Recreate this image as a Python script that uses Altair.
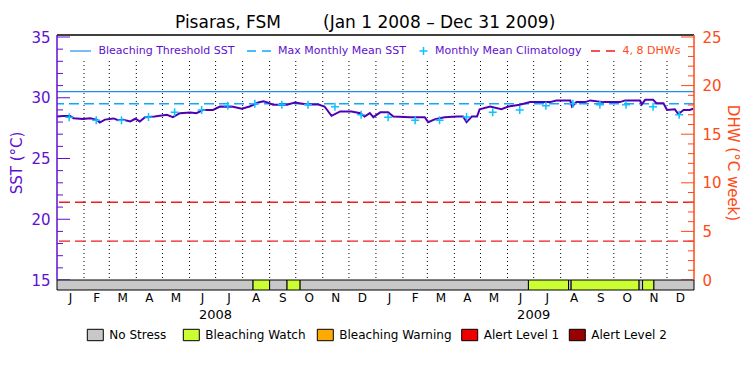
import altair as alt
import pandas as pd

# ---------------- data ----------------
TITLE_SITE = "Pisaras, FSM"
TITLE_RANGE = "(Jan 1 2008 – Dec 31 2009)"

SST_DATES = [
    "2008-01-01", "2008-01-08", "2008-01-16", "2008-01-20", "2008-01-31", "2008-02-08",
    "2008-02-16", "2008-02-19", "2008-02-25", "2008-03-06", "2008-03-11", "2008-03-17",
    "2008-03-25", "2008-03-31", "2008-04-05", "2008-04-11", "2008-04-22", "2008-05-06",
    "2008-05-13", "2008-05-21", "2008-06-02", "2008-06-09", "2008-06-17", "2008-06-28",
    "2008-07-06", "2008-07-21", "2008-07-31", "2008-08-09", "2008-08-19", "2008-08-25",
    "2008-08-30", "2008-09-05", "2008-09-21", "2008-09-30", "2008-10-14", "2008-10-27",
    "2008-11-03", "2008-11-11", "2008-11-21", "2008-12-04", "2008-12-14", "2008-12-19",
    "2008-12-25", "2008-12-29", "2009-01-06", "2009-01-15", "2009-01-21", "2009-02-09",
    "2009-02-26", "2009-03-02", "2009-03-10", "2009-03-21", "2009-04-04", "2009-04-11",
    "2009-04-15", "2009-04-21", "2009-04-27", "2009-04-30", "2009-05-12", "2009-05-25",
    "2009-06-02", "2009-06-15", "2009-06-27", "2009-07-20", "2009-07-27", "2009-08-12",
    "2009-08-14", "2009-08-19", "2009-08-29", "2009-09-04", "2009-09-19", "2009-10-08",
    "2009-10-14", "2009-10-31", "2009-11-02", "2009-11-06", "2009-11-15", "2009-11-19",
    "2009-11-27", "2009-12-01", "2009-12-10", "2009-12-14", "2009-12-20", "2009-12-27",
    "2009-12-31",
]
SST_VALUES = [
    28.45, 28.50, 28.50, 28.32, 28.25, 28.32,
    28.18, 27.96, 28.20, 28.30, 28.15, 28.18,
    28.05, 28.27, 28.05, 28.40, 28.45, 28.60,
    28.40, 28.73, 28.78, 28.73, 29.00, 29.00,
    29.28, 29.25, 29.10, 29.28, 29.61, 29.70,
    29.60, 29.42, 29.42, 29.60, 29.45, 29.45,
    29.28, 28.51, 28.87, 28.87, 28.73, 28.45,
    28.73, 28.40, 28.80, 28.80, 28.45, 28.40,
    28.40, 27.99, 28.24, 28.40, 28.45, 28.45,
    27.99, 28.45, 28.45, 29.05, 29.28, 29.05,
    29.28, 29.42, 29.64, 29.64, 29.78, 29.78,
    29.28, 29.64, 29.64, 29.78, 29.64, 29.64,
    29.78, 29.78, 29.45, 29.83, 29.83, 29.55,
    29.55, 29.00, 29.05, 28.65, 29.00, 29.00,
    29.10,
]

# monthly mean climatology (Jan..Dec)
CLIM_VALUES = [28.40, 28.15, 28.15, 28.42, 28.80, 29.00, 29.35, 29.50, 29.42, 29.42, 29.25, 28.60]
YEARS = [2008, 2009]

BLEACHING_THRESHOLD = 30.5
MAX_MONTHLY_MEAN = 29.5
DHW_LEVELS = [4, 8]

STRESS_LEVELS = ["No Stress", "Bleaching Watch", "Bleaching Warning", "Alert Level 1", "Alert Level 2"]
STRESS_COLORS = ["#c8c8c8", "#ccff33", "#ffaa00", "#ee0000", "#990000"]
STRESS_START = ["2008-01-01", "2008-08-13", "2008-09-01", "2008-09-21", "2008-10-06", "2009-06-25",
                "2009-08-10", "2009-08-13", "2009-10-30", "2009-11-03", "2009-11-16"]
STRESS_END = ["2008-08-13", "2008-09-01", "2008-09-21", "2008-10-06", "2009-06-25", "2009-08-10",
              "2009-08-13", "2009-10-30", "2009-11-03", "2009-11-16", "2010-01-01"]
STRESS_LEVEL = ["No Stress", "Bleaching Watch", "No Stress", "Bleaching Watch", "No Stress",
                "Bleaching Watch", "No Stress", "Bleaching Watch", "No Stress", "Bleaching Watch",
                "No Stress"]

MONTH_LETTERS = ["J", "F", "M", "A", "M", "J", "J", "A", "S", "O", "N", "D"]

SST_TICKS_MAJOR = [15, 20, 25, 30, 35]
DHW_TICKS_MAJOR = [0, 5, 10, 15, 20, 25]

LEGEND_LABELS = ["Bleaching Threshold SST", "Max Monthly Mean SST", "Monthly Mean Climatology", "4, 8 DHWs"]

# ---------------- style ----------------
FONT = "DejaVu Sans"
PURPLE = "#6010d0"
SST_LINE = "#5000b4"
ORANGE = "#ff4a14"
THRESH_BLUE = "#2090f0"
MMM_BLUE = "#10a8ff"
CLIM_CYAN = "#10c0ff"
RED_DASH = "#ee1c1c"

W, H = 637, 255
BAR = 10
TOP_PAD = 2  # pixels between frame top and the top of both value axes
px_per_sst = (H - BAR - TOP_PAD) / (35 - 15)
px_per_dhw = (H - BAR - TOP_PAD) / 25
sst_domain = [15 - BAR / px_per_sst, 35 + TOP_PAD / px_per_sst]
dhw_domain = [0 - BAR / px_per_dhw, 25 + TOP_PAD / px_per_dhw]

x_scale = alt.Scale(domain=[alt.DateTime(year=2008, month=1, date=1),
                            alt.DateTime(year=2010, month=1, date=1)])
sst_scale = alt.Scale(domain=sst_domain, nice=False, zero=False)
dhw_scale = alt.Scale(domain=dhw_domain, nice=False, zero=False)

sst_axis = alt.Axis(values=SST_TICKS_MAJOR, ticks=False, domain=False, grid=False,
                    labelColor=PURPLE, labelFont=FONT, labelFontSize=15, labelPadding=7,
                    title="SST (°C)", titleColor=PURPLE, titleFont=FONT,
                    titleFontSize=15, titleFontWeight="normal", titlePadding=6)
dhw_axis = alt.Axis(orient="right", values=DHW_TICKS_MAJOR, ticks=False, domain=False, grid=False,
                    labelColor=ORANGE, labelFont=FONT, labelFontSize=15, labelPadding=8,
                    title="DHW (°C week)", titleColor=ORANGE, titleFont=FONT,
                    titleFontSize=15, titleFontWeight="normal", titlePadding=3)


def X(field):
    return alt.X(field, type="temporal", scale=x_scale, axis=None)


def YS(field):
    return alt.Y(field, type="quantitative", scale=sst_scale, axis=sst_axis)


def YD(field):
    return alt.Y(field, type="quantitative", scale=dhw_scale, axis=dhw_axis)


# ---------------- tables ----------------
sst_df = pd.DataFrame({"date": pd.to_datetime(SST_DATES), "sst": SST_VALUES})

clim_rows = []
for yr in YEARS:
    for m, v in enumerate(CLIM_VALUES):
        clim_rows.append({"date": pd.Timestamp(year=yr, month=m + 1, day=15), "clim": v})
clim_df = pd.DataFrame(clim_rows)

month_starts = pd.date_range("2008-01-01", "2010-01-01", freq="MS")
month_df = pd.DataFrame({
    "date": [month_starts[i] + (month_starts[i + 1] - month_starts[i]) / 2 for i in range(24)],
    "m": [MONTH_LETTERS[i % 12] for i in range(24)],
})
grid_df = pd.DataFrame({"date": month_starts[1:-1]})
year_df = pd.DataFrame({"date": [pd.Timestamp(year=y, month=7, day=1) for y in YEARS],
                        "y": [str(y) for y in YEARS]})

stress_df = pd.DataFrame({"start": pd.to_datetime(STRESS_START), "end": pd.to_datetime(STRESS_END),
                          "level": STRESS_LEVEL})

sst_ticks_major = pd.DataFrame({"v": SST_TICKS_MAJOR})
sst_ticks_minor = pd.DataFrame({"v": [v for v in range(15, 36) if v % 5]})
dhw_ticks_major = pd.DataFrame({"v": DHW_TICKS_MAJOR})
dhw_ticks_minor = pd.DataFrame({"v": [v for v in range(0, 26) if v % 5]})

# ---------------- SST group ----------------
gridlines = alt.Chart(grid_df).mark_rule(color="black", strokeDash=[1, 3], strokeWidth=1).encode(
    x=X("date"), y=alt.value(26), y2=alt.value(H - BAR))

thresh = alt.Chart(pd.DataFrame({"t": [BLEACHING_THRESHOLD]})).mark_rule(
    color=THRESH_BLUE, strokeWidth=1.2).encode(y=YS("t"))
mmm = alt.Chart(pd.DataFrame({"m": [MAX_MONTHLY_MEAN]})).mark_rule(
    color=MMM_BLUE, strokeWidth=1.5, strokeDash=[10, 5]).encode(y=YS("m"))

sst_line = alt.Chart(sst_df).mark_line(color=SST_LINE, strokeWidth=2).encode(x=X("date"), y=YS("sst"))

PLUS = "M-1,0H1M0,-1V1"
clim = alt.Chart(clim_df).mark_point(shape=PLUS, size=64, color=CLIM_CYAN, strokeWidth=1.5,
                                     filled=False, opacity=1).encode(x=X("date"), y=YS("clim"))

sst_tmaj = alt.Chart(sst_ticks_major).mark_rule(color=PURPLE).encode(
    y=YS("v"), x=alt.value(0), x2=alt.value(13))
sst_tmin = alt.Chart(sst_ticks_minor).mark_rule(color=PURPLE).encode(
    y=YS("v"), x=alt.value(0), x2=alt.value(6))

sst_group = alt.layer(gridlines, thresh, mmm, sst_line, clim, sst_tmaj, sst_tmin)

# ---------------- DHW group ----------------
dhw_rules = alt.Chart(pd.DataFrame({"d": DHW_LEVELS})).mark_rule(
    color=RED_DASH, strokeWidth=1.3, strokeDash=[11, 5]).encode(y=YD("d"))
dhw_tmaj = alt.Chart(dhw_ticks_major).mark_rule(color=ORANGE).encode(
    y=YD("v"), x=alt.value(W - 13), x2=alt.value(W))
dhw_tmin = alt.Chart(dhw_ticks_minor).mark_rule(color=ORANGE).encode(
    y=YD("v"), x=alt.value(W - 6), x2=alt.value(W))
dhw_group = alt.layer(dhw_rules, dhw_tmaj, dhw_tmin)

# ---------------- stress bar ----------------
stress = alt.Chart(stress_df).mark_rect(stroke="black", strokeWidth=1).encode(
    x=X("start"), x2="end", y=alt.value(H - BAR), y2=alt.value(H),
    color=alt.Color("level:N", scale=alt.Scale(domain=STRESS_LEVELS, range=STRESS_COLORS), legend=None))

# stress legend (manual, positions in view pixels)
SL_BOX_X = [30.3, 126.3, 260.3, 404.7, 512.3]
SL_Y0, SL_Y1, SL_TY = 294.3, 305.7, 300
stress_legend = []
for lev, col, bx in zip(STRESS_LEVELS, STRESS_COLORS, SL_BOX_X):
    d = pd.DataFrame({"t": [lev]})
    stress_legend.append(alt.Chart(d).mark_rect(fill=col, stroke="black", strokeWidth=1).encode(
        x=alt.value(bx), x2=alt.value(bx + 16), y=alt.value(SL_Y0), y2=alt.value(SL_Y1)))
    stress_legend.append(alt.Chart(d).mark_text(font=FONT, fontSize=12, color="black", align="left",
                                                baseline="middle").encode(
        x=alt.value(bx + 22), y=alt.value(SL_TY), text="t:N"))

# ---------------- frame ----------------
one = pd.DataFrame({"k": [0]})
frame_top = alt.Chart(one).mark_rule(color="black", strokeWidth=1.5).encode(
    x=alt.value(0), x2=alt.value(W), y=alt.value(0))
frame_left = alt.Chart(one).mark_rule(color=PURPLE, strokeWidth=1.5).encode(
    x=alt.value(0), y=alt.value(0), y2=alt.value(H - BAR))
frame_right = alt.Chart(one).mark_rule(color=ORANGE, strokeWidth=1.5).encode(
    x=alt.value(W), y=alt.value(0), y2=alt.value(H - BAR))

# ---------------- texts ----------------
months = alt.Chart(month_df).mark_text(font=FONT, fontSize=12, color="black", baseline="middle").encode(
    x=X("date"), y=alt.value(263), text="m:N")
years = alt.Chart(year_df).mark_text(font=FONT, fontSize=13, color="black", baseline="middle").encode(
    x=X("date"), y=alt.value(280), text="y:N")

title1 = alt.Chart(pd.DataFrame({"t": [TITLE_SITE]})).mark_text(
    font=FONT, fontSize=17, color="black", align="left", baseline="middle").encode(
    x=alt.value(118), y=alt.value(-12), text="t:N")
title2 = alt.Chart(pd.DataFrame({"t": [TITLE_RANGE]})).mark_text(
    font=FONT, fontSize=17, color="black", align="left", baseline="middle").encode(
    x=alt.value(266), y=alt.value(-12), text="t:N")

LY = 16
leg_items = []
leg_items.append(alt.Chart(one).mark_rule(color=THRESH_BLUE, strokeWidth=1.2).encode(
    x=alt.value(13), x2=alt.value(34), y=alt.value(LY)))
leg_items.append(alt.Chart(one).mark_rule(color=MMM_BLUE, strokeWidth=1.5, strokeDash=[9, 6]).encode(
    x=alt.value(190), x2=alt.value(215), y=alt.value(LY)))
leg_items.append(alt.Chart(one).mark_point(shape=PLUS, size=64, color=CLIM_CYAN, strokeWidth=1.5,
                                           filled=False, opacity=1).encode(
    x=alt.value(366.5), y=alt.value(LY)))
leg_items.append(alt.Chart(one).mark_rule(color=RED_DASH, strokeWidth=1.3, strokeDash=[9, 6]).encode(
    x=alt.value(534), x2=alt.value(559), y=alt.value(LY)))
for label, xpos, col in zip(LEGEND_LABELS, [41.5, 221, 378, 565.6], [PURPLE, PURPLE, PURPLE, ORANGE]):
    leg_items.append(alt.Chart(pd.DataFrame({"t": [label]})).mark_text(
        font=FONT, fontSize=11, color=col, align="left", baseline="middle").encode(
        x=alt.value(xpos), y=alt.value(LY), text="t:N"))

chart = alt.layer(
    sst_group, dhw_group, stress, frame_top, frame_left, frame_right,
    months, years, title1, title2, *leg_items, *stress_legend
).resolve_scale(y="independent").properties(
    width=W, height=H,
    autosize=alt.AutoSizeParams(type="none"),
    padding={"left": 49, "top": 27, "right": 48, "bottom": 77},
).configure_view(stroke=None)

chart.save("out.html", embed_options={"renderer": "svg", "actions": False})
